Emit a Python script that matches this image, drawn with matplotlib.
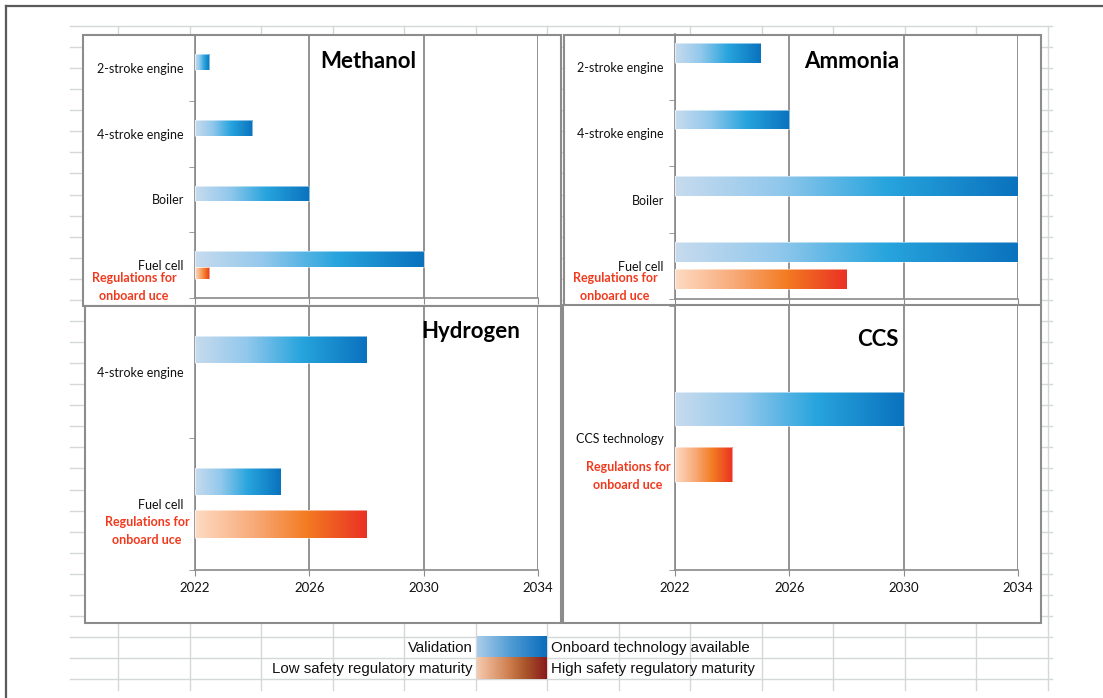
import numpy as np
import matplotlib
matplotlib.use("Agg")
import matplotlib.pyplot as plt
from matplotlib.colors import LinearSegmentedColormap
from matplotlib.patches import Rectangle

# ---------------- data ----------------
years = [2022, 2026, 2030, 2034]
start_year = 2022

methanol_cats = ["2-stroke engine", "4-stroke engine", "Boiler", "Fuel cell"]
methanol_tech = [2022.5, 2024, 2026, 2030]
methanol_reg = [None, None, None, 2022.5]

ammonia_cats = ["2-stroke engine", "4-stroke engine", "Boiler", "Fuel cell"]
ammonia_tech = [2025, 2026, 2034, 2034]
ammonia_reg = [None, None, None, 2028]

hydrogen_cats = ["4-stroke engine", "Fuel cell"]
hydrogen_tech = [2028, 2025]
hydrogen_reg = [None, 2028]

ccs_cats = ["CCS technology"]
ccs_tech = [2030]
ccs_reg = [2024]

reg_label = "Regulations for\nonboard uce"
legend_rows = [("Validation", "Onboard technology available"),
               ("Low safety regulatory maturity", "High safety regulatory maturity")]

# ---------------- styles ----------------
W, H = 1103, 698
fig = plt.figure(figsize=(W / 100, H / 100), dpi=100)
fig.patch.set_facecolor("white")

blue_cmap = LinearSegmentedColormap.from_list(
    "b", [(0, "#c7dbee"), (0.3, "#92c8ec"), (0.62, "#27a4dd"), (1, "#0a72be")])
red_cmap = LinearSegmentedColormap.from_list(
    "r", [(0, "#fddbc3"), (0.35, "#f8a977"), (0.65, "#f37b22"), (1, "#ea3124")])
leg_blue = LinearSegmentedColormap.from_list(
    "lb", [(0, "#aacdea"), (0.5, "#4d9ad3"), (1, "#0a6dbd")])
leg_red = LinearSegmentedColormap.from_list(
    "lr", [(0, "#f6caae"), (0.45, "#cf8050"), (0.7, "#a9542a"), (1, "#8a1a1d")])

FONT = ["Lato", "DejaVu Sans"]
NARROW = ["Liberation Sans Narrow", "Liberation Sans", "DejaVu Sans"]
GRID_C = "#d4d8d8"
AX_C = "#8a8a8a"
RED_TXT = "#f03a1e"

# ---------------- background (spreadsheet) ----------------
bg = fig.add_axes([0, 0, 1, 1])
bg.set_xlim(0, W)
bg.set_ylim(H, 0)
bg.axis("off")

row_y = [26 + 21.07 * k for k in range(32)]
for y in row_y:
    if y < 692:
        bg.plot([70, 1052], [y, y], color=GRID_C, lw=1.0, zorder=1)
col_x = [118 + 71.5 * k for k in range(14)]
for x in col_x:
    bg.plot([x, x], [26, 690], color=GRID_C, lw=1.0, zorder=1)

# outer frame
bg.plot([6, W], [6, 6], color="#5a5a5a", lw=1.6, zorder=5)
bg.plot([6, 6], [6, H], color="#5a5a5a", lw=1.6, zorder=5)

# chart boxes (white with gray border)
boxes = [(83, 35, 561, 306), (564, 35, 1041, 306),
         (85, 306, 561, 623), (563, 305, 1041, 623)]
for (x0, y0, x1, y1) in boxes:
    bg.add_patch(Rectangle((x0, y0), x1 - x0, y1 - y0, facecolor="white",
                           edgecolor="#8c8c8c", lw=1.5, zorder=3))

# legend
leg_x0, leg_x1 = 477, 547
for i, ((ltxt, rtxt), cm) in enumerate(zip(legend_rows, [leg_blue, leg_red])):
    y0 = 637 + 21.07 * i
    y1 = y0 + 21.07
    grad = np.linspace(0, 1, 256).reshape(1, -1)
    bg.imshow(grad, cmap=cm, aspect="auto", extent=(leg_x0, leg_x1, y1, y0), zorder=4)
    bg.text(leg_x0 - 4, (y0 + y1) / 2, ltxt, ha="right", va="center",
            fontsize=10.8, family=NARROW, color="#111111", zorder=6)
    bg.text(leg_x1 + 4, (y0 + y1) / 2, rtxt, ha="left", va="center",
            fontsize=10.8, family=NARROW, color="#111111", zorder=6)
bg.set_xlim(0, W)
bg.set_ylim(H, 0)


def px_axes(x0, y0, x1, y1):
    return fig.add_axes([x0 / W, 1 - y1 / H, (x1 - x0) / W, (y1 - y0) / H])


def grad_bars(ax, ypos, ends, height, cmap):
    grad = np.linspace(0, 1, 256).reshape(1, -1)
    for y, e in zip(ypos, ends):
        if e is None:
            continue
        bars = ax.barh([y], [e - start_year], left=start_year, height=height,
                       facecolor="none", edgecolor="none", zorder=3)
        p = bars.patches[0]
        im = ax.imshow(grad, cmap=cmap, aspect="auto",
                       extent=(start_year, e, y + height / 2, y - height / 2),
                       zorder=3)
        im.set_clip_path(p)
        ax.add_patch(Rectangle((start_year, y - height / 2), e - start_year, height,
                               facecolor="none", edgecolor="#ffffff", lw=0.6,
                               alpha=0.6, zorder=4))


def panel(rect, title, title_xy, cats, tech, reg, boff, bh, roff, rh,
          reg_xy, show_xlabels, title_size=16):
    ax = px_axes(*rect)
    n = len(cats)
    ax.set_xlim(2022, 2034)
    ax.set_ylim(n - 0.5, -0.5)
    ax.set_facecolor("none")
    ypos = np.arange(n)
    grad_bars(ax, ypos + boff, tech, bh, blue_cmap)
    grad_bars(ax, ypos + roff, reg, rh, red_cmap)
    ax.set_xlim(2022, 2034)
    ax.set_ylim(n - 0.5, -0.5)
    for s in ["top", "right"]:
        ax.spines[s].set_visible(False)
    for s in ["left", "bottom"]:
        ax.spines[s].set_color(AX_C)
        ax.spines[s].set_linewidth(1.2)
    ax.set_xticks(years)
    ax.xaxis.grid(True, color=AX_C, lw=1.3)
    ax.set_axisbelow(True)
    ax.tick_params(axis="x", length=4, color=AX_C, labelsize=9.5, pad=5,
                   labelbottom=show_xlabels)
    for lab in ax.get_xticklabels():
        lab.set_family(FONT)
        lab.set_color("#111111")
    ax.set_yticks(ypos, cats)
    ax.set_yticks(np.arange(n + 1) - 0.5, minor=True)
    ax.tick_params(axis="y", which="major", length=0, pad=8, labelsize=9)
    ax.tick_params(axis="y", which="minor", length=4, color=AX_C)
    for lab in ax.get_yticklabels():
        lab.set_family(FONT)
        lab.set_color("#111111")
    ax.text(title_xy[0], title_xy[1], title, transform=ax.transAxes,
            ha="center", va="center", fontsize=title_size, fontweight="bold",
            family=FONT, color="black")
    fig.text(reg_xy[0] / W, 1 - reg_xy[1] / H, reg_label, ha="center",
             va="center", fontsize=9, fontweight="bold", family=FONT,
             color=RED_TXT, linespacing=1.65)
    return ax


def frac(rect, px, py):
    x0, y0, x1, y1 = rect
    return ((px - x0) / (x1 - x0), 1 - (py - y0) / (y1 - y0))


r_m = (195, 35, 538, 298)
panel(r_m, "Methanol", frac(r_m, 368, 62), methanol_cats, methanol_tech,
      methanol_reg, -0.09, 0.24, 0.12, 0.18, (134, 287), False)

r_a = (675, 34, 1018, 299)
panel(r_a, "Ammonia", frac(r_a, 852, 62), ammonia_cats, ammonia_tech,
      ammonia_reg, -0.21, 0.30, 0.20, 0.31, (615, 287), False)

r_h = (195, 306, 538, 570)
panel(r_h, "Hydrogen", frac(r_h, 471, 332), hydrogen_cats, hydrogen_tech,
      hydrogen_reg, -0.17, 0.205, 0.15, 0.21, (147, 531), True)

r_c = (675, 306, 1018, 570)
panel(r_c, "CCS", frac(r_c, 878, 339), ccs_cats, ccs_tech,
      ccs_reg, -0.11, 0.13, 0.10, 0.13, (628, 476), True)

fig.savefig("out.png", dpi=100)
